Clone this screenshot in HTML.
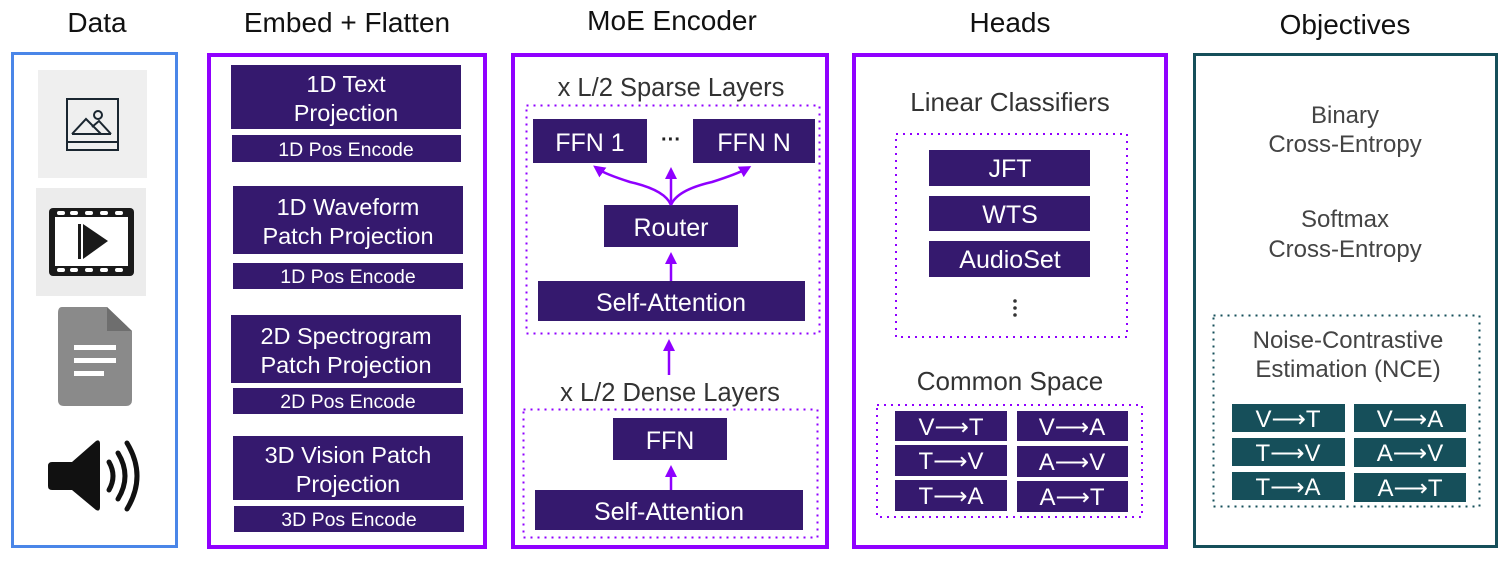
<!DOCTYPE html>
<html><head><meta charset="utf-8"><style>
html,body{margin:0;padding:0;background:#fff;width:1512px;height:561px;overflow:hidden}
svg{display:block}
text{font-family:"Liberation Sans",sans-serif;text-anchor:middle}
.w{fill:#fff}
.b{fill:#35196e}
.t{fill:#164f5a}
</style></head><body>
<svg width="1512" height="561" viewBox="0 0 1512 561">
<defs><marker id="ah" markerWidth="12" markerHeight="12" refX="6" refY="6" orient="auto" markerUnits="userSpaceOnUse" viewBox="0 0 12 12"><path d="M0,0 L12,6 L0,12 z" fill="#8f00ff"/></marker></defs>
<!-- titles -->
<g font-size="28" fill="#111">
<text x="97" y="32">Data</text>
<text x="347" y="32">Embed + Flatten</text>
<text x="672" y="30">MoE Encoder</text>
<text x="1010" y="32">Heads</text>
<text x="1345" y="34">Objectives</text>
</g>
<!-- frames -->
<rect x="12.5" y="53.5" width="164" height="493" fill="none" stroke="#4a86e8" stroke-width="3"/>
<rect x="209" y="55" width="276" height="492" fill="none" stroke="#9000ff" stroke-width="4"/>
<rect x="513" y="55" width="314" height="492" fill="none" stroke="#9000ff" stroke-width="4"/>
<rect x="854" y="55" width="312" height="492" fill="none" stroke="#9000ff" stroke-width="4"/>
<rect x="1194.5" y="54.5" width="302" height="492" fill="none" stroke="#164f5a" stroke-width="3"/>
<!-- data icons -->
<rect x="38" y="70" width="109" height="108" fill="#efefef"/>
<rect x="67" y="99" width="51" height="51" fill="none" stroke="#1a2630" stroke-width="2"/>
<line x1="67" y1="142" x2="118" y2="142" stroke="#1a2630" stroke-width="2"/>
<path d="M72,134 L86,119 L101,134 M92,127 L99,121 L111,134 M72,134 L111,134" fill="none" stroke="#1a2630" stroke-width="2"/>
<circle cx="98" cy="115" r="4" fill="none" stroke="#1a2630" stroke-width="2"/>
<rect x="36" y="188" width="110" height="108" fill="#ececec"/>
<rect x="49" y="208" width="85" height="68" rx="4" fill="#1a1a1a"/>
<rect x="55" y="217" width="73" height="49" fill="#fff"/>
<g fill="#fff"><rect x="57" y="211" width="8" height="4" rx="2"/><rect x="70" y="211" width="8" height="4" rx="2"/><rect x="85" y="211" width="8" height="4" rx="2"/><rect x="100" y="211" width="8" height="4" rx="2"/><rect x="115" y="211" width="8" height="4" rx="2"/>
<rect x="57" y="268" width="8" height="4" rx="2"/><rect x="70" y="268" width="8" height="4" rx="2"/><rect x="85" y="268" width="8" height="4" rx="2"/><rect x="100" y="268" width="8" height="4" rx="2"/><rect x="115" y="268" width="8" height="4" rx="2"/></g>
<rect x="78" y="224" width="3" height="35" fill="#1a1a1a"/>
<path d="M83,224 L108,241 L83,259 z" fill="#1a1a1a"/>
<path d="M62,307 H107 L132,331 V400 Q132,406 126,406 H64 Q58,406 58,400 V313 Q58,307 62,307 z" fill="#8a8a8a"/>
<path d="M107,307 L132,331 H107 z" fill="#6e6e6e"/>
<rect x="74" y="345" width="42" height="5" fill="#fff"/><rect x="74" y="358" width="42" height="5" fill="#fff"/><rect x="74" y="371" width="30" height="5" fill="#fff"/>
<path d="M52,462 H72 L96,441 Q100,439 100,444 V507 Q100,512 96,510 L72,490 H52 Q48,490 48,486 V466 Q48,462 52,462z" fill="#111"/>
<g fill="none" stroke="#111" stroke-width="5" stroke-linecap="round"><path d="M109,462 Q117,476 109,490"/><path d="M118,453 Q132,476 118,499"/><path d="M127,443 Q147,476 127,509"/></g>
<!-- embed -->
<g class="b">
<rect x="231" y="65" width="230" height="64"/><rect x="232" y="135" width="229" height="27"/>
<rect x="233" y="186" width="230" height="68"/><rect x="233" y="263" width="230" height="26"/>
<rect x="231" y="315" width="230" height="68"/><rect x="233" y="388" width="230" height="26"/>
<rect x="233" y="436" width="230" height="64"/><rect x="234" y="506" width="230" height="26"/>
</g>
<g class="w" font-size="23.5">
<text x="346" y="92">1D Text</text><text x="346" y="121">Projection</text>
<text x="348" y="215">1D Waveform</text><text x="348" y="244">Patch Projection</text>
<text x="346" y="344">2D Spectrogram</text><text x="346" y="373">Patch Projection</text>
<text x="348" y="463">3D Vision Patch</text><text x="348" y="492">Projection</text>
</g>
<g class="w" font-size="19.5">
<text x="346" y="156">1D Pos Encode</text><text x="348" y="283">1D Pos Encode</text>
<text x="348" y="408">2D Pos Encode</text><text x="349" y="526">3D Pos Encode</text>
</g>
<!-- MoE -->
<g font-size="25.5" fill="#333"><text x="671" y="96">x L/2 Sparse Layers</text><text x="670" y="401">x L/2 Dense Layers</text></g>
<rect x="526.5" y="105.5" width="293" height="228" fill="none" stroke="#9000ff" stroke-width="2" stroke-dasharray="2,5"/>
<rect x="523.5" y="409.5" width="294" height="128" fill="none" stroke="#9000ff" stroke-width="2" stroke-dasharray="2,5"/>
<g class="b">
<rect x="533" y="119" width="114" height="44"/><rect x="693" y="119" width="122" height="44"/>
<rect x="604" y="205" width="134" height="42"/><rect x="538" y="281" width="267" height="40"/>
<rect x="613" y="418" width="114" height="42"/><rect x="535" y="490" width="268" height="40"/>
</g>
<g class="w" font-size="25">
<text x="590" y="151">FFN 1</text><text x="754" y="151">FFN N</text>
<text x="671" y="236">Router</text><text x="671" y="311">Self-Attention</text>
<text x="670" y="449">FFN</text><text x="669" y="520">Self-Attention</text>
</g>
<text x="671" y="146" font-size="20" font-weight="bold" fill="#222">···</text>
<g stroke="#8f00ff" stroke-width="2.5" fill="none">
<line x1="671" y1="281" x2="671" y2="258" marker-end="url(#ah)"/>
<line x1="671" y1="490" x2="671" y2="471" marker-end="url(#ah)"/>
<line x1="669" y1="375" x2="669" y2="345" marker-end="url(#ah)"/>
<line x1="671" y1="205" x2="671" y2="173" marker-end="url(#ah)"/>
<path d="M671,205 Q665,190 630,182 Q605,174 598,169" marker-end="url(#ah)"/>
<path d="M671,205 Q677,190 712,182 Q737,174 746,169" marker-end="url(#ah)"/>
</g>
<!-- heads -->
<g font-size="26" fill="#333"><text x="1010" y="111">Linear Classifiers</text><text x="1010" y="390">Common Space</text></g>
<rect x="896" y="134" width="231" height="203" fill="none" stroke="#9000ff" stroke-width="2" stroke-dasharray="2,5"/>
<rect x="877" y="405" width="265" height="112" fill="none" stroke="#9000ff" stroke-width="2" stroke-dasharray="2,5"/>
<g class="b">
<rect x="929" y="150" width="161" height="36"/><rect x="929" y="196" width="161" height="35"/><rect x="929" y="241" width="161" height="36"/>
<rect x="895" y="411" width="112" height="30"/><rect x="1017" y="411" width="111" height="30"/>
<rect x="895" y="445" width="112" height="31"/><rect x="1017" y="446" width="111" height="31"/>
<rect x="895" y="480" width="112" height="31"/><rect x="1017" y="481" width="111" height="31"/>
</g>
<g class="w" font-size="25">
<text x="1010" y="177">JFT</text><text x="1010" y="223">WTS</text><text x="1010" y="268">AudioSet</text>
</g>
<g fill="#333"><circle cx="1015" cy="301" r="1.8"/><circle cx="1015" cy="308" r="1.8"/><circle cx="1015" cy="315" r="1.8"/></g>
<g class="w" font-size="24">
<text x="951" y="435">V⟶T</text><text x="1072" y="435">V⟶A</text>
<text x="951" y="469">T⟶V</text><text x="1072" y="470">A⟶V</text>
<text x="951" y="504">T⟶A</text><text x="1072" y="505">A⟶T</text>
</g>
<!-- objectives -->
<g font-size="24" fill="#444">
<text x="1345" y="123">Binary</text><text x="1345" y="152">Cross-Entropy</text>
<text x="1345" y="227">Softmax</text><text x="1345" y="257">Cross-Entropy</text>
<text x="1348" y="348">Noise-Contrastive</text><text x="1348" y="377">Estimation (NCE)</text>
</g>
<rect x="1213.5" y="315.5" width="266" height="191" fill="none" stroke="#164f5a" stroke-width="2" stroke-dasharray="2,5"/>
<g class="t">
<rect x="1232" y="404" width="113" height="28"/><rect x="1354" y="404" width="112" height="28"/>
<rect x="1232" y="438" width="113" height="28"/><rect x="1354" y="438" width="112" height="29"/>
<rect x="1232" y="472" width="113" height="28"/><rect x="1354" y="473" width="112" height="29"/>
</g>
<g class="w" font-size="24">
<text x="1288" y="427">V⟶T</text><text x="1410" y="427">V⟶A</text>
<text x="1288" y="461">T⟶V</text><text x="1410" y="461">A⟶V</text>
<text x="1288" y="495">T⟶A</text><text x="1410" y="496">A⟶T</text>
</g>
</svg>
</body></html>
